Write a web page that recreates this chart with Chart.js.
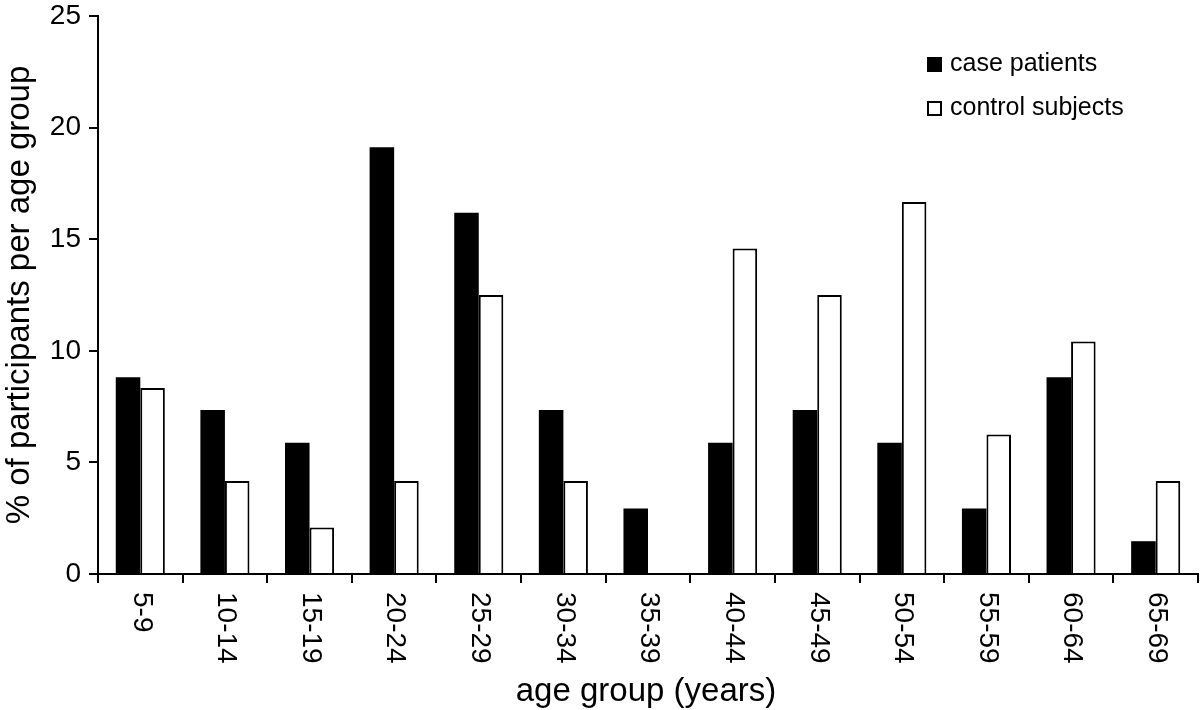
<!DOCTYPE html>
<html>
<head>
<meta charset="utf-8">
<script src="https://cdn.jsdelivr.net/npm/chart.js@4/dist/chart.umd.min.js"></script>
<style>
  html, body { margin: 0; padding: 0; background: #fff; }
  #c { display: block; }
</style>
</head>
<body>
<canvas id="c" width="1200" height="710"></canvas>
<script>
const categories = ['5-9','10-14','15-19','20-24','25-29','30-34','35-39','40-44','45-49','50-54','55-59','60-64','65-69'];
const casePatients = [8.82, 7.35, 5.88, 19.12, 16.18, 7.35, 2.94, 5.88, 7.35, 5.88, 2.94, 8.82, 1.47];
const controlSubjects = [8.33, 4.17, 2.08, 4.17, 12.5, 4.17, 0, 14.58, 12.5, 16.67, 6.25, 10.42, 4.17];
const seriesLabels = ['case patients', 'control subjects'];
const yTicks = [0, 5, 10, 15, 20, 25];
const xTitle = 'age group (years)';
const yTitle = '% of participants per age group';

const FONT = '"Liberation Sans", Arial, Helvetica, sans-serif';

const whiteBg = {
  id: 'whiteBg',
  beforeDraw(chart) {
    const ctx = chart.ctx;
    ctx.save();
    ctx.fillStyle = '#fff';
    ctx.fillRect(0, 0, chart.width, chart.height);
    ctx.restore();
  }
};

const customText = {
  id: 'customText',
  afterDraw(chart) {
    const ctx = chart.ctx;
    const xs = chart.scales.x;
    const area = chart.chartArea;
    ctx.save();
    ctx.fillStyle = '#000';
    // rotated x tick labels (clockwise)
    ctx.font = '28px ' + FONT;
    ctx.textAlign = 'left';
    ctx.textBaseline = 'middle';
    categories.forEach((lab, i) => {
      const cx = xs.getPixelForValue(i);
      ctx.save();
      ctx.translate(cx + 1, area.bottom + 18);
      ctx.rotate(Math.PI / 2);
      ctx.fillText(lab, 0, 0);
      ctx.restore();
    });
    // x title
    ctx.font = '33px ' + FONT;
    ctx.textAlign = 'center';
    ctx.textBaseline = 'alphabetic';
    ctx.fillText(xTitle, (area.left + area.right) / 2 - 2, 701);
    // y title
    ctx.save();
    ctx.translate(29, (area.top + area.bottom) / 2);
    ctx.rotate(-Math.PI / 2);
    ctx.fillText(yTitle, 0, 0);
    ctx.restore();
    // legend
    ctx.font = '25px ' + FONT;
    ctx.textAlign = 'left';
    ctx.textBaseline = 'middle';
    chart.data.datasets.forEach((ds, i) => {
      const cy = 64.5 + i * 44;
      const bx = 927, size = 15;
      ctx.fillStyle = ds.backgroundColor;
      ctx.fillRect(bx, cy - size / 2, size, size);
      ctx.lineWidth = 2;
      ctx.strokeStyle = '#000';
      ctx.strokeRect(bx + 1, cy - size / 2 + 1, size - 2, size - 2);
      ctx.fillStyle = '#000';
      ctx.fillText(ds.label, 950, cy);
    });
    ctx.restore();
  }
};

new Chart(document.getElementById('c'), {
  type: 'bar',
  data: {
    labels: categories,
    datasets: [
      { label: seriesLabels[0], data: casePatients, backgroundColor: '#000', borderColor: '#000', borderWidth: 0 },
      { label: seriesLabels[1], data: controlSubjects, backgroundColor: '#fff', borderColor: '#000', borderWidth: 2 }
    ]
  },
  options: {
    responsive: false,
    animation: false,
    categoryPercentage: 0.58,
    barPercentage: 1.0,
    layout: { padding: { top: 16, right: 2, left: 0, bottom: 0 } },
    plugins: { legend: { display: false }, tooltip: { enabled: false }, title: { display: false } },
    scales: {
      x: {
        offset: true,
        grid: { display: true, drawOnChartArea: false, drawTicks: true, tickLength: 9, color: '#000', lineWidth: 2, offset: true },
        border: { display: true, color: '#000', width: 2 },
        ticks: { display: false },
        afterFit(s) { s.height = 136; s.paddingLeft = 0; s.paddingRight = 0; }
      },
      y: {
        min: 0, max: 25,
        afterBuildTicks(s) { s.ticks = yTicks.map(v => ({ value: v })); },
        grid: { display: true, drawOnChartArea: false, drawTicks: true, tickLength: 9, color: '#000', lineWidth: 2 },
        border: { display: true, color: '#000', width: 2 },
        ticks: { color: '#000', font: { size: 28, family: FONT }, padding: 8 },
        afterFit(s) { s.width = 98; s.paddingTop = 0; s.paddingBottom = 0; }
      }
    }
  },
  plugins: [whiteBg, customText]
});
</script>
</body>
</html>
